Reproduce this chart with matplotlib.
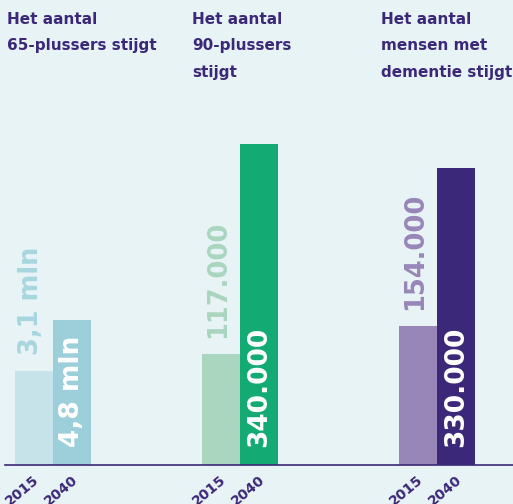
import matplotlib.pyplot as plt
from matplotlib.lines import Line2D
from matplotlib.transforms import ScaledTranslation

# data
years = ["2015", "2040"]
titles = ["Het aantal\n65-plussers stijgt",
          "Het aantal\n90-plussers\nstijgt",
          "Het aantal\nmensen met\ndementie stijgt"]
values = [[3.1, 4.8], [117000, 340000], [154000, 330000]]
labels = [["3,1 mln", "4,8 mln"], ["117.000", "340.000"], ["154.000", "330.000"]]
colors = [["#C5E3E8", "#9DCFDA"], ["#AAD5BF", "#14AA74"], ["#9886B8", "#3C2878"]]
label_colors = ["#A8D6DF", "#AAD5BF", "#9886B8"]
# each panel has its own scale (top of the y axis)
ytops = [12.1, 386650, 405640]

bg = "#E8F3F6"
purple = "#3C2878"
W, H = 513, 504

fig = plt.figure(figsize=(W / 100, H / 100), dpi=100, facecolor=bg)

base = 464.7
top = 100
lefts = [15, 202, 399]
title_x = [7, 192, 381]

for i in range(3):
    ax = fig.add_axes([lefts[i] / W, (H - base) / H, 76 / W, (base - top) / H])
    ax.set_facecolor("none")
    ax.bar([0, 1], values[i], width=1.0, color=colors[i])
    ax.set_xlim(-0.5, 1.5)
    ax.set_ylim(0, ytops[i])
    for s in ax.spines.values():
        s.set_visible(False)
    ax.set_yticks([])
    ax.set_xticks([0, 1])
    ax.set_xticklabels(years, rotation=40, ha="right", va="top",
                       rotation_mode="anchor", fontsize=10,
                       fontweight="bold", color=purple, family="DejaVu Sans")
    ax.tick_params(axis="x", length=0, pad=6)
    for lab in ax.get_xticklabels():
        lab.set_transform(lab.get_transform() +
                          ScaledTranslation(-1 / 100, 0, fig.dpi_scale_trans))

    # 2015 label above the bar, 2040 label inside at the bottom
    ax.annotate(labels[i][0], (0, values[i][0]), xytext=(-2, 12),
                textcoords="offset points", rotation=90, ha="center", va="bottom",
                fontsize=18.5, fontweight="bold", color=label_colors[i],
                family="DejaVu Sans")
    ax.annotate(labels[i][1], (1, 0), xytext=(0, 13),
                textcoords="offset points", rotation=90, ha="center", va="bottom",
                fontsize=19, fontweight="bold", color="white",
                family="DejaVu Sans")

    fig.text(title_x[i] / W, 1 - 12 / H, titles[i], ha="left", va="top",
             fontsize=11, fontweight="bold", color=purple, linespacing=1.95,
             family="DejaVu Sans")

fig.add_artist(Line2D([5 / W, 1], [(H - base) / H] * 2, color=purple, lw=1.2,
                      transform=fig.transFigure))

fig.savefig("out.png", dpi=100, facecolor=bg)
